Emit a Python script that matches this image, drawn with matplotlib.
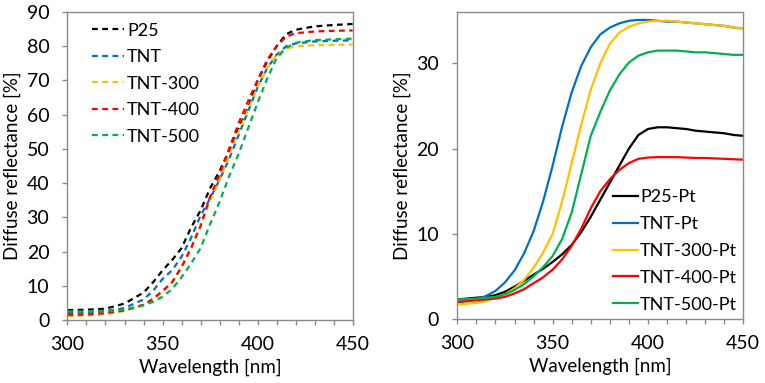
import matplotlib
matplotlib.use("Agg")
import matplotlib.pyplot as plt
from matplotlib.ticker import MultipleLocator

plt.rcParams['font.family'] = ['Lato', 'DejaVu Sans']

# ---------------- data: left panel (dashed) ----------------
wl_a = [300, 310, 320, 330, 340, 345, 350, 355, 360, 365, 370, 375, 380,
        385, 390, 395, 400, 405, 410, 415, 420, 430, 440, 450]
p25 = [2.9, 3.0, 3.3, 4.8, 8.0, 11.0, 14.5, 17.5, 21.0, 27.0, 32.0, 38.5, 43.5,
       49.5, 56.0, 62.0, 70.0, 75.5, 80.0, 83.5, 84.8, 85.8, 86.2, 86.5]
tnt = [2.0, 2.2, 2.6, 3.5, 6.0, 8.5, 12.0, 14.5, 18.5, 24.0, 30.5, 35.5, 41.0,
       47.0, 54.0, 61.0, 68.0, 73.5, 77.5, 80.0, 80.8, 81.4, 81.6, 81.7]
tnt300 = [1.2, 1.3, 1.8, 2.6, 4.3, 6.0, 8.3, 11.0, 15.5, 21.0, 27.5, 35.0, 41.0,
          48.0, 55.0, 61.5, 68.0, 73.5, 77.5, 79.3, 80.0, 80.3, 80.4, 80.5]
tnt400 = [1.5, 1.6, 2.0, 2.8, 4.5, 6.2, 8.5, 11.0, 15.5, 21.0, 27.5, 36.0, 42.5,
          50.0, 57.5, 64.0, 70.0, 76.0, 80.0, 82.8, 83.8, 84.3, 84.5, 84.6]
tnt500 = [2.5, 2.5, 2.7, 3.0, 4.3, 5.3, 6.8, 9.0, 12.5, 16.5, 21.0, 28.0, 34.5,
          42.0, 48.5, 56.0, 63.5, 70.5, 76.5, 79.5, 81.0, 81.8, 82.0, 82.2]

# ---------------- data: right panel (solid, Pt) ----------------
wl_b = [300, 305, 310, 315, 320, 325, 330, 335, 340, 345, 350, 355, 360, 365,
        370, 375, 380, 385, 390, 395, 400, 405, 410, 415, 420, 425, 430, 435,
        440, 445, 450]
p25_pt = [2.3, 2.4, 2.5, 2.6, 2.8, 3.2, 3.8, 4.5, 5.2, 5.9, 6.7, 7.6, 8.7, 10.2,
          12.0, 14.0, 16.0, 18.0, 20.0, 21.6, 22.3, 22.5, 22.5, 22.4, 22.3, 22.1,
          22.0, 21.9, 21.8, 21.6, 21.5]
tnt_pt = [2.0, 2.1, 2.3, 2.7, 3.3, 4.3, 5.7, 7.7, 10.3, 13.8, 18.0, 22.6, 26.6,
          29.7, 31.9, 33.4, 34.2, 34.7, 35.0, 35.1, 35.1, 35.0, 34.9, 34.9, 34.8,
          34.7, 34.6, 34.5, 34.4, 34.2, 34.1]
tnt300_pt = [1.7, 1.8, 1.9, 2.1, 2.5, 2.9, 3.6, 4.6, 6.0, 7.8, 10.0, 13.8, 18.3,
             22.8, 26.9, 30.0, 32.3, 33.6, 34.3, 34.7, 34.9, 35.0, 35.0, 34.9,
             34.8, 34.7, 34.6, 34.5, 34.4, 34.2, 34.1]
tnt400_pt = [2.0, 2.1, 2.2, 2.3, 2.4, 2.6, 3.0, 3.5, 4.2, 4.9, 5.8, 7.0, 8.6,
             10.6, 13.0, 15.0, 16.4, 17.5, 18.3, 18.8, 18.95, 19.0, 19.0, 19.0,
             18.95, 18.9, 18.9, 18.85, 18.8, 18.75, 18.7]
tnt500_pt = [2.3, 2.35, 2.4, 2.5, 2.6, 2.9, 3.4, 4.1, 5.0, 6.1, 7.4, 9.4, 12.5,
             17.0, 21.5, 24.3, 26.8, 28.7, 30.1, 30.9, 31.3, 31.5, 31.5, 31.5,
             31.4, 31.3, 31.3, 31.2, 31.1, 31.0, 31.0]

labels_a = ["P25", "TNT", "TNT-300", "TNT-400", "TNT-500"]
labels_b = ["P25-Pt", "TNT-Pt", "TNT-300-Pt", "TNT-400-Pt", "TNT-500-Pt"]
colors = ["#000000", "#0070C0", "#FFC000", "#FF0000", "#00B050"]

series_a = [p25, tnt, tnt300, tnt400, tnt500]
series_b = [p25_pt, tnt_pt, tnt300_pt, tnt400_pt, tnt500_pt]

TICK_FS = 14
LABEL_FS = 13.5
LEG_FS = 13
SPINE = "#8a8a8a"

fig = plt.figure(figsize=(7.65, 3.83), dpi=100)
ax1 = fig.add_axes([0.0882, 0.1645, 0.3728, 0.8042])
ax2 = fig.add_axes([0.5978, 0.167, 0.3738, 0.801])


def style(ax):
    for s in ax.spines.values():
        s.set_color(SPINE)
        s.set_linewidth(1.0)
    ax.tick_params(axis='both', which='both', direction='out', length=3.6,
                   width=1.0, color=SPINE, labelsize=TICK_FS)
    ax.tick_params(axis='y', pad=9.5)
    ax.tick_params(axis='x', pad=8)
    ax.set_xlim(300, 450)
    ax.xaxis.set_major_locator(MultipleLocator(50))
    ax.xaxis.set_minor_locator(MultipleLocator(10))
    ax.set_xlabel("Wavelength [nm]", fontsize=LABEL_FS, labelpad=4)
    ax.set_ylabel("Diffuse reflectance [%]", fontsize=LABEL_FS, labelpad=4)


for y, lab, c in zip(series_a, labels_a, colors):
    ax1.plot(wl_a, y, color=c, lw=1.6, ls=(0, (2.6, 2.0)), label=lab)
ax1.set_ylim(0, 90)
ax1.yaxis.set_major_locator(MultipleLocator(10))
style(ax1)
ax1.legend(loc='upper left', frameon=False, fontsize=LEG_FS, handlelength=1.75,
           handletextpad=0.2, labelspacing=0.58, borderaxespad=0, borderpad=0,
           bbox_to_anchor=(0.086, 0.965))

for y, lab, c in zip(series_b, labels_b, colors):
    ax2.plot(wl_b, y, color=c, lw=1.6, label=lab)
ax2.set_ylim(0, 36)
ax2.yaxis.set_major_locator(MultipleLocator(10))
style(ax2)
ax2.legend(loc='upper left', frameon=False, fontsize=LEG_FS, handlelength=1.4,
           handletextpad=0.1, labelspacing=0.6, borderaxespad=0, borderpad=0,
           bbox_to_anchor=(0.544, 0.423))

fig.savefig("out.png", dpi=100)
